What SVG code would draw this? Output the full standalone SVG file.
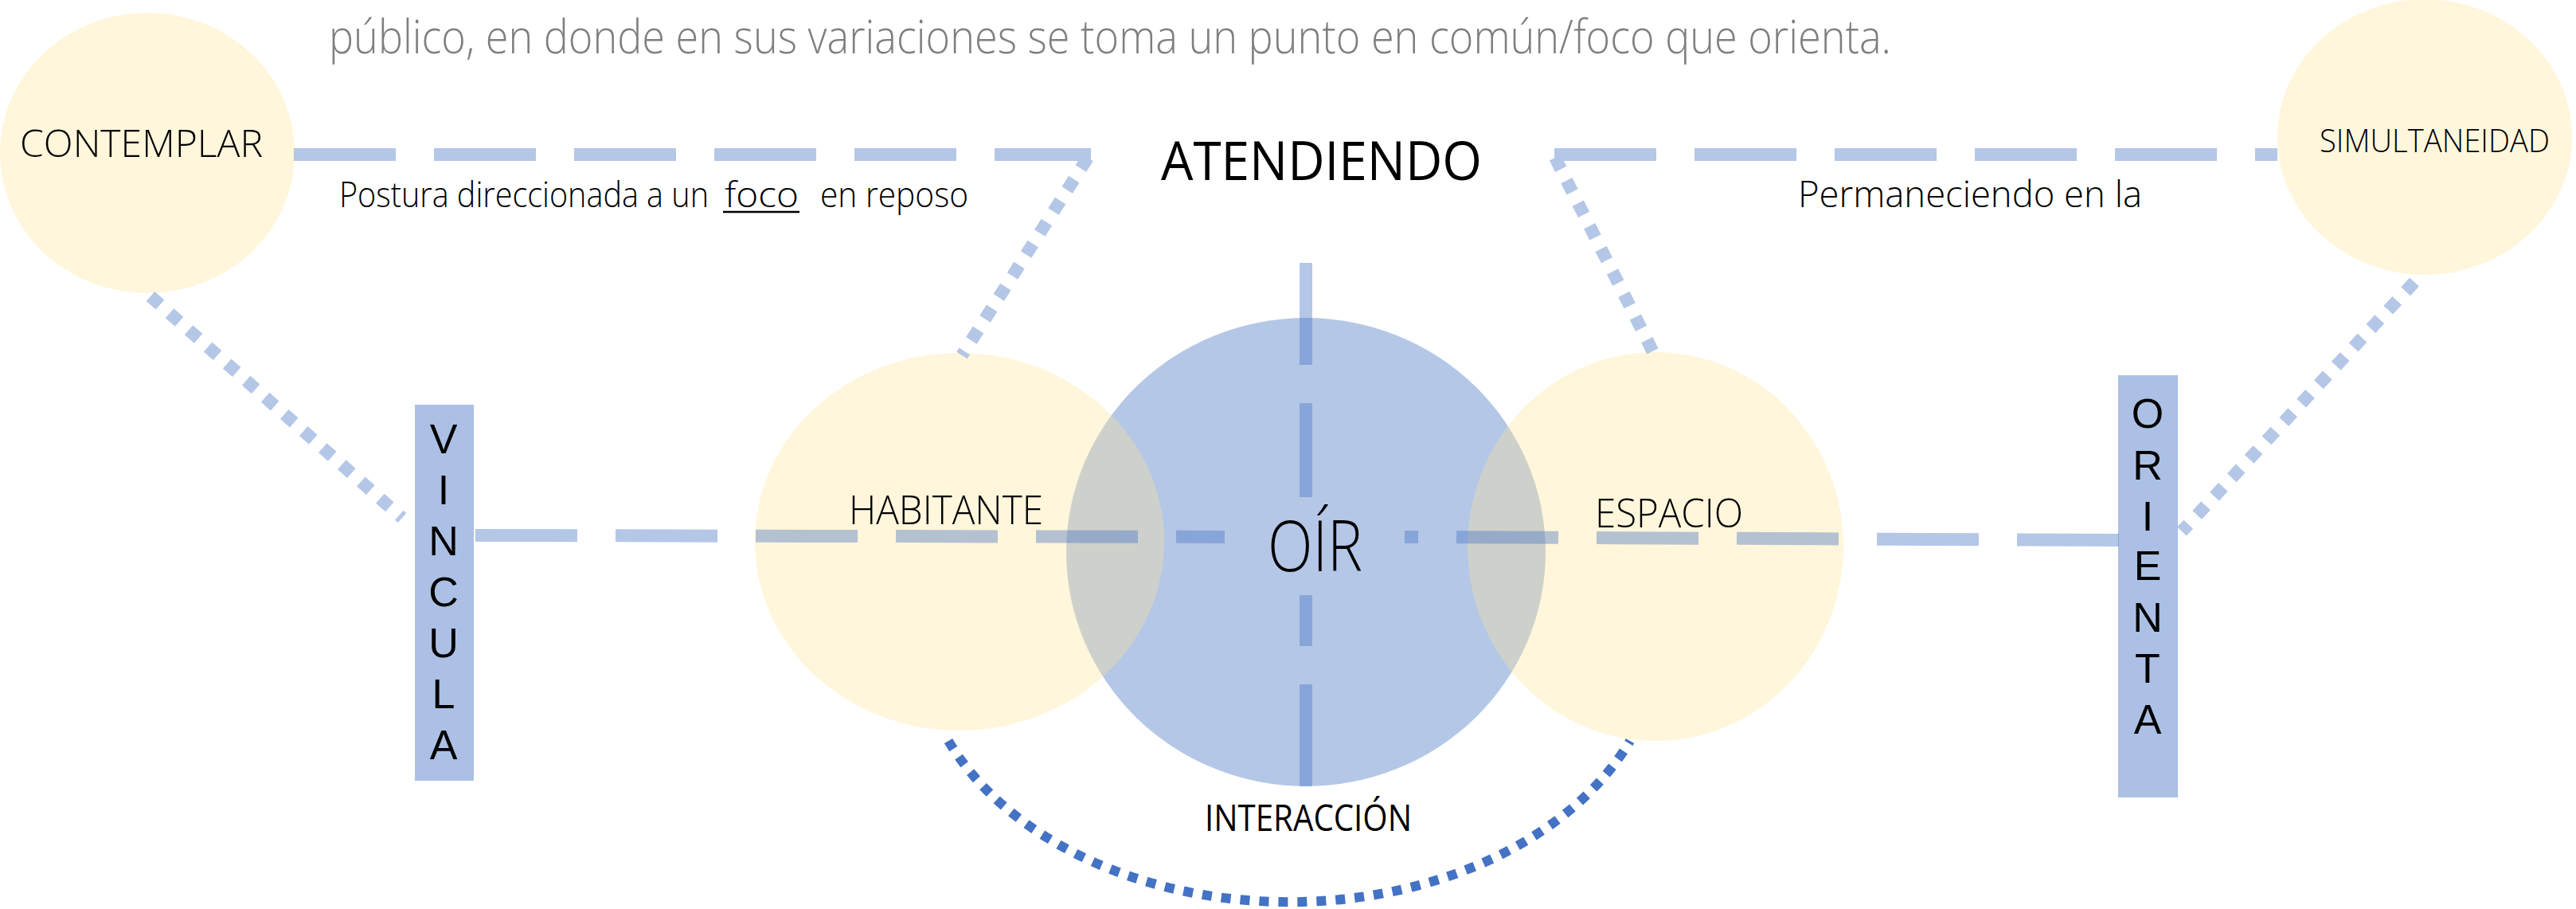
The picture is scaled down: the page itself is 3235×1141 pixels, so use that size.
<svg xmlns="http://www.w3.org/2000/svg" width="3235" height="1141" viewBox="0 0 3235 1141">
<style>
.bg{fill:#ffffff}
.cream{fill:#FFE699;fill-opacity:0.35}
.bluec{fill:#4472C4;fill-opacity:0.4}
.bar{fill:#ABC0E4}
.dash{fill:none;stroke:#4472C4;stroke-opacity:0.4;stroke-width:16;stroke-dasharray:128 48}
.dot{fill:none;stroke:#B4C7E7;stroke-width:16;stroke-dasharray:16 16}
.arc{fill:none;stroke:#4472C4;stroke-width:12;stroke-dasharray:12 12}
.lt{font-family:"Open Sans","Liberation Sans",sans-serif;font-weight:300;fill:#000}
.rg{font-family:"Open Sans","Liberation Sans",sans-serif;font-weight:400;fill:#000}
.para{font-family:"Open Sans","Liberation Sans",sans-serif;font-weight:300;fill:#7F7F7F;font-size:58px}
.letter{font-family:"Liberation Sans",Arial,sans-serif;font-weight:400;fill:#000;font-size:52px;text-anchor:middle}
</style>
<rect class="bg" x="0" y="0" width="3235" height="1141"/>

<text class="para" x="413" y="67" textLength="1962" lengthAdjust="spacingAndGlyphs">público, en donde en sus variaciones se toma un punto en común/foco que orienta.</text>

<g id="oir-circle"><ellipse class="bluec" cx="1640" cy="693" rx="301" ry="294"/></g>
<g id="contemplar-circle"><ellipse class="cream" cx="185" cy="192" rx="185" ry="176"/></g>
<g id="simultaneidad-circle"><ellipse class="cream" cx="3045" cy="172" rx="185" ry="173"/></g>
<g id="habitante-circle"><ellipse class="cream" cx="1205" cy="680" rx="257" ry="237"/></g>
<g id="espacio-circle"><ellipse class="cream" cx="2079" cy="686" rx="236" ry="244"/></g>

<g id="vincula"><rect class="bar" x="521" y="508" width="74" height="472"/>
<text class="letter"><tspan x="557" y="569">V</tspan><tspan x="557" y="633">I</tspan><tspan x="557" y="697">N</tspan><tspan x="557" y="761">C</tspan><tspan x="557" y="825">U</tspan><tspan x="557" y="889">L</tspan><tspan x="557" y="953">A</tspan></text>
</g>
<g id="orienta"><rect class="bar" x="2660" y="471" width="75" height="530"/>
<text class="letter"><tspan x="2697" y="537">O</tspan><tspan x="2697" y="602">R</tspan><tspan x="2697" y="666">I</tspan><tspan x="2697" y="728">E</tspan><tspan x="2697" y="793">N</tspan><tspan x="2697" y="857">T</tspan><tspan x="2697" y="921">A</tspan></text>
</g>

<g id="connectors">
<path class="dash" d="M369,194 L1370,194"/>
<path class="dash" d="M1952,194 L2860,194"/>
<path class="dash" d="M597,672 L1538,674"/>
<path class="dash" d="M2661,678 L1764,674"/>
<path class="dash" d="M1640,330 L1640,624"/>
<path class="dash" d="M1640,987 L1640,747"/>
<path class="dot" d="M189,372 L505,650"/>
<path class="dot" d="M1366,198 L1208,446"/>
<path class="dot" d="M1953,198 L2076,442"/>
<path class="dot" d="M3032,354 L2740,667"/>
<path class="arc" d="M1191,930 A465,332 0 0,0 2047,930"/>
</g>

<g id="labels">
<text class="lt" x="25" y="197" font-size="48" textLength="305" lengthAdjust="spacingAndGlyphs">CONTEMPLAR</text>
<text class="rg" x="1458" y="226" font-size="68" textLength="403" lengthAdjust="spacingAndGlyphs">ATENDIENDO</text>
<text class="lt" x="2913" y="191" font-size="41" textLength="289" lengthAdjust="spacingAndGlyphs">SIMULTANEIDAD</text>
<text class="lt" x="426" y="260" font-size="44" textLength="464" lengthAdjust="spacingAndGlyphs">Postura direccionada a un</text>
<text class="lt" x="910" y="260" font-size="44" textLength="93" lengthAdjust="spacingAndGlyphs">foco</text>
<line x1="908" y1="266" x2="1004" y2="266" stroke="#000" stroke-width="2.5"/>
<text class="lt" x="1030" y="260" font-size="44" textLength="186" lengthAdjust="spacingAndGlyphs">en reposo</text>
<text class="lt" x="2258" y="260" font-size="46" textLength="432" lengthAdjust="spacingAndGlyphs">Permaneciendo en la</text>
<text class="lt" x="1066" y="658" font-size="50" textLength="244" lengthAdjust="spacingAndGlyphs">HABITANTE</text>
<text class="lt" x="1592" y="717" font-size="88" textLength="119" lengthAdjust="spacingAndGlyphs">OÍR</text>
<text class="lt" x="2003" y="662" font-size="50" textLength="186" lengthAdjust="spacingAndGlyphs">ESPACIO</text>
<text class="rg" x="1513" y="1043" font-size="46" textLength="260" lengthAdjust="spacingAndGlyphs">INTERACCIÓN</text>
</g>
</svg>
